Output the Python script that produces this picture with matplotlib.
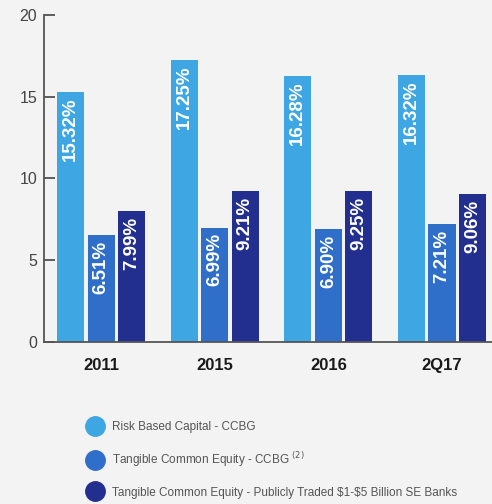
import numpy as np
import matplotlib
matplotlib.use('Agg')
from matplotlib import pyplot as plt
from matplotlib.lines import Line2D

plt.rcParams['font.family'] = ['Liberation Sans', 'DejaVu Sans']

periods = ['2011', '2015', '2016', '2Q17']
risk_based = [15.32, 17.25, 16.28, 16.32]
tce_ccbg = [6.51, 6.99, 6.90, 7.21]
tce_peers = [7.99, 9.21, 9.25, 9.06]

series_names = ['Risk Based Capital - CCBG',
                r'Tangible Common Equity - CCBG $^{(2)}$',
                r'Tangible Common Equity - Publicly Traded \$1-\$5 Billion SE Banks']
colors = ['#3ea6e2', '#2f6fca', '#232f8e']

bg = '#f3f3f3'
fig = plt.figure(figsize=(4.92, 5.04), dpi=100, facecolor=bg)
ax = fig.add_axes([0.0895, 0.322, 0.9105, 0.648], facecolor=bg)

x = np.arange(len(periods))
w = 0.238
step = 0.269
for i, vals in enumerate([risk_based, tce_ccbg, tce_peers]):
    xs = x + (i - 1) * step
    ax.bar(xs, vals, width=w, color=colors[i], zorder=2)
    for xi, v in zip(xs, vals):
        ax.text(xi, v - 0.35, '%.2f%%' % v, rotation=90, ha='center',
                va='top', color='white', fontsize=13.5, fontweight='bold')

ax.set_xlim(-0.503, 3.44)
ax.set_ylim(0, 20)
ax.set_yticks([0, 5, 10, 15, 20])
ax.set_xticks(x)
ax.set_xticklabels(periods, fontweight='bold', fontsize=12, color='#1a1a1a')
ax.tick_params(axis='x', length=0, pad=12)
ax.tick_params(axis='y', direction='in', length=8, width=1.2, labelsize=11.5,
               colors='#444444', pad=5)
for s in ['top', 'right']:
    ax.spines[s].set_visible(False)
for s in ['left', 'bottom']:
    ax.spines[s].set_color('#555555')
    ax.spines[s].set_linewidth(1.3)

handles = [Line2D([], [], marker='o', linestyle='none', markersize=14,
                  markerfacecolor=c, markeredgecolor=c) for c in colors]
fig.legend(handles, series_names, loc='upper left',
           bbox_to_anchor=(0.148, 0.185), frameon=False, fontsize=8.5,
           labelspacing=1.45, handletextpad=0.4, labelcolor='#555555')

fig.savefig('out.png', dpi=100, facecolor=bg)
